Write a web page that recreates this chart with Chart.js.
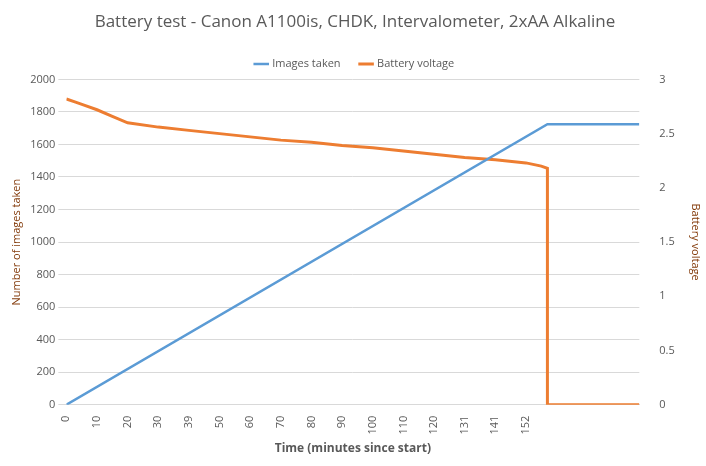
<!DOCTYPE html>
<html><head><meta charset="utf-8">
<script src="https://cdn.jsdelivr.net/npm/chart.js@4"></script>
<style>html,body{margin:0;background:#fff}#w{width:706px;height:466px}</style>
</head><body><div id="w"><canvas id="c"></canvas></div>
<script>
const tickLabels = ['0','10','20','30','39','50','60','70','80','90','100','110','120','131','141','152'];
const imgX = [0, 157, 187];
const imgY = [0, 1725, 1725];
const voltX = [0, 3, 6, 10, 15, 20, 30, 40, 50, 60, 70, 80, 90, 100, 110, 120, 130, 140, 150, 155, 157, 157, 187];
const voltY = [2.82, 2.79, 2.76, 2.72, 2.66, 2.60, 2.56, 2.53, 2.50, 2.47, 2.44, 2.42, 2.39, 2.37, 2.34, 2.31, 2.28, 2.26, 2.23, 2.20, 2.18, 0, 0];
const pts = (xs, ys) => xs.map((x, i) => ({x, y: ys[i]}));
const font = "'Open Sans', sans-serif";
Chart.defaults.font.family = font;
Chart.defaults.color = '#595959';
new Chart(document.getElementById('c'), {
  type: 'line',
  data: { datasets: [
    { label: 'Images taken', data: pts(imgX, imgY), borderColor: '#5b9bd5', backgroundColor: '#5b9bd5', borderWidth: 2.5, pointRadius: 0, yAxisID: 'y' },
    { label: 'Battery voltage', data: pts(voltX, voltY), borderColor: '#ed7d31', backgroundColor: '#ed7d31', borderWidth: 3, pointRadius: 0, yAxisID: 'y1' }
  ]},
  options: {
    responsive: true, maintainAspectRatio: false, animation: false,
    layout: { padding: { left: 6, right: 2, top: 4, bottom: 6 } },
    plugins: {
      title: { display: true, text: 'Battery test - Canon A1100is, CHDK, Intervalometer, 2xAA Alkaline', font: { size: 17, weight: 'normal' }, color: '#595959', padding: { top: 8, bottom: 6 } },
      legend: { position: 'top', labels: { usePointStyle: true, pointStyle: 'line', boxWidth: 30, font: { size: 11 }, padding: 20 } },
      tooltip: { enabled: false }
    },
    scales: {
      x: { type: 'linear', min: 0, max: 187,
        grid: { display: false }, border: { color: '#d9d9d9' },
        ticks: { stepSize: 10, autoSkip: false, maxRotation: 90, minRotation: 90, font: { size: 11 },
          callback: v => tickLabels[v / 10] ?? '' },
        title: { display: true, text: 'Time (minutes since start)', font: { size: 12, weight: 'bold' } } },
      y: { position: 'left', min: 0, max: 2000, grid: { color: '#d9d9d9' }, border: { display: false },
        ticks: { stepSize: 200, font: { size: 11 }, callback: v => String(v) },
        title: { display: true, text: 'Number of images taken', font: { size: 11 }, color: '#843c0c' } },
      y1: { position: 'right', min: 0, max: 3, grid: { display: false }, border: { display: false },
        ticks: { stepSize: 0.5, font: { size: 11 }, padding: 12, callback: v => String(v) },
        title: { display: true, text: 'Battery voltage', font: { size: 11 }, color: '#843c0c', padding: 2 } }
    }
  }
});
</script></body></html>
